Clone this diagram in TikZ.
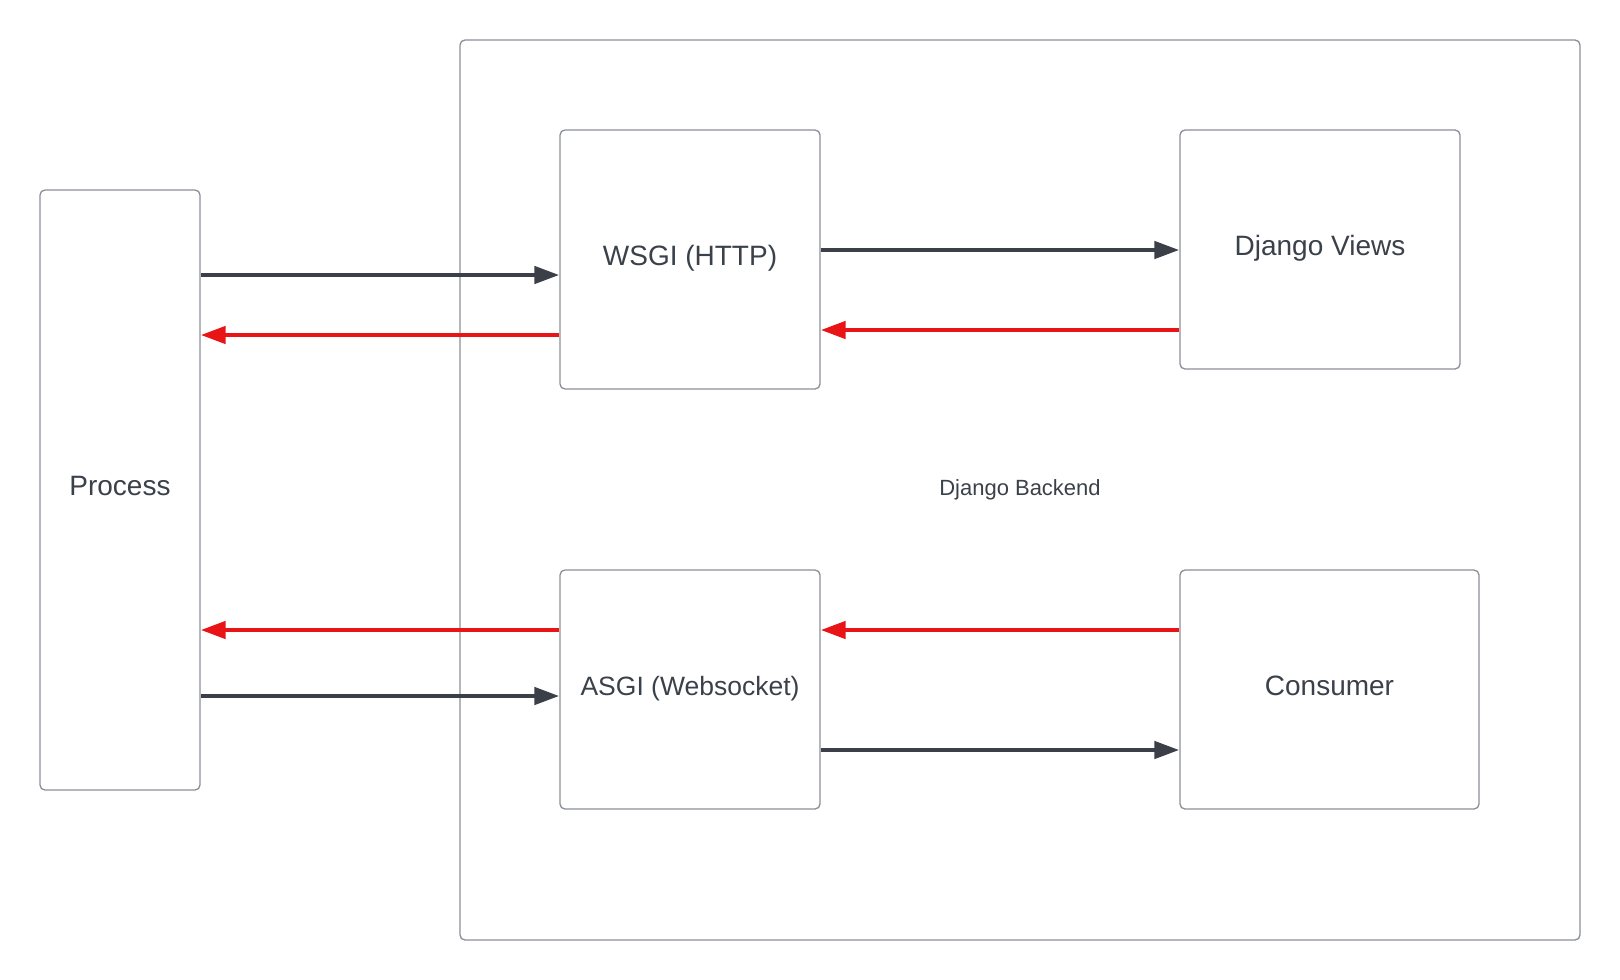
\documentclass[tikz,border=0pt]{standalone}
\usepackage{fontspec}
\setmainfont{Liberation Sans}
\usetikzlibrary{arrows.meta}
\definecolor{boxgray}{HTML}{8A8F96}
\definecolor{textgray}{HTML}{3A414A}
\definecolor{arrowdark}{HTML}{3A3F48}
\definecolor{arrowred}{HTML}{E81416}
\tikzset{
  block/.style={draw=boxgray,line width=1.3pt,rounded corners=5pt,text=textgray,
    inner sep=0pt,text height=20pt,text depth=9pt,font=\fontsize{28}{32}\selectfont},
  flow/.style={line width=4.5pt,-{Triangle[length=25pt,width=17pt]}}
}
\begin{document}
\begin{tikzpicture}[x=1pt,y=-1pt]
    \useasboundingbox (0,0) rectangle (1620,980);

    \begin{scope}
      \node[block,minimum width=1120pt,minimum height=900pt,text height=16pt,text depth=5pt,
        font=\fontsize{22}{26}\selectfont] (backend) at (1020,490) {Django Backend};

      \node[block,minimum width=160pt,minimum height=600pt] (process) at (120,490) {Process};
      \node[block,minimum width=260pt,minimum height=259pt] (wsgi) at (690,259.5) {WSGI (HTTP)};
      \node[block,minimum width=280pt,minimum height=239pt] (views) at (1320,249.5) {Django Views};
      \node[block,minimum width=260pt,minimum height=239pt,
        font=\fontsize{26.5}{30}\selectfont] (asgi) at (690,689.5) {ASGI (Websocket)};
      \node[block,minimum width=299pt,minimum height=239pt] (consumer) at (1329.5,689.5) {Consumer};

      \foreach \n/\a/\y in {process/east/275,process/east/335,process/east/630,process/east/696,
          wsgi/west/275,wsgi/west/335,wsgi/east/250,wsgi/east/330,views/west/250,views/west/330,
          asgi/west/630,asgi/west/696,asgi/east/630,asgi/east/750,consumer/west/630,consumer/west/750} {
        \coordinate (\n_\a_\y) at (\n.\a |- 0,\y);
      }
    \end{scope}

    \begin{scope}[color=arrowdark,flow]
        \path
        (process_east_275) edge (wsgi_west_275)
        (wsgi_east_250) edge (views_west_250)
        (process_east_696) edge (asgi_west_696)
        (asgi_east_750) edge (consumer_west_750);
    \end{scope}

    \begin{scope}[color=arrowred,flow]
        \path
        (wsgi_west_335) edge (process_east_335)
        (views_west_330) edge (wsgi_east_330)
        (asgi_west_630) edge (process_east_630)
        (consumer_west_630) edge (asgi_east_630);
    \end{scope}
  \end{tikzpicture}
\end{document}
